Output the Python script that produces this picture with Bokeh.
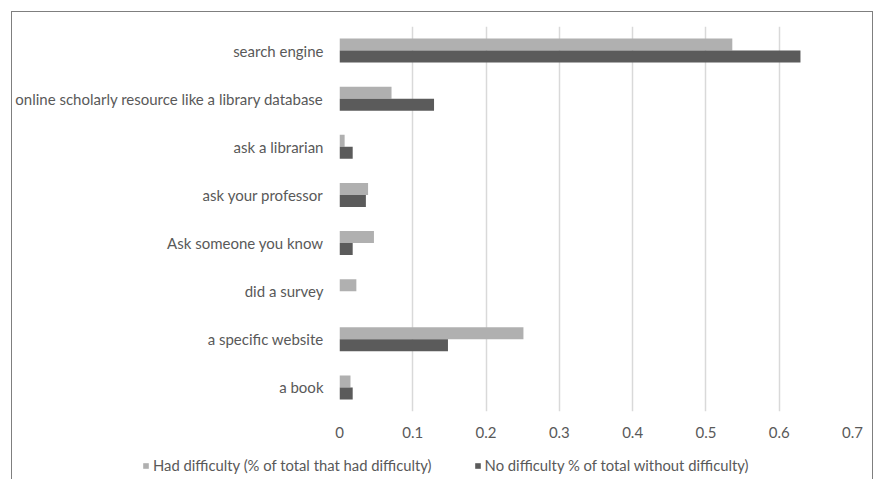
from bokeh.plotting import figure
from bokeh.layouts import column
from bokeh.models import ColumnDataSource, FactorRange, Legend, LegendItem, FixedTicker
from bokeh.transform import dodge
from bokeh.embed import file_html
from bokeh.resources import INLINE

categories = ["search engine", "online scholarly resource like a library database",
              "ask a librarian", "ask your professor", "Ask someone you know",
              "did a survey", "a specific website", "a book"]
had_difficulty = [0.536, 0.071, 0.007, 0.039, 0.047, 0.023, 0.251, 0.015]
no_difficulty = [0.629, 0.129, 0.018, 0.036, 0.018, 0.0, 0.148, 0.018]
x_ticks = [0, 0.1, 0.2, 0.3, 0.4, 0.5, 0.6, 0.7]
series_names = ["Had difficulty (% of total that had difficulty)",
                "No difficulty % of total without difficulty)"]

FONT = "Lato"
TXT = "#595959"
LIGHT = "#b0b0b0"
DARK = "#5b5b5b"

src = ColumnDataSource(dict(cat=categories, had=had_difficulty, no=no_difficulty))

p = figure(width=860, height=430, output_backend="svg", toolbar_location=None,
           y_range=FactorRange(factors=categories[::-1], range_padding=0),
           x_range=(0, 0.7),
           min_border_left=327, min_border_right=20, min_border_top=14, min_border_bottom=31)
p.frame_align = False
p.y_range.factor_padding = 0
p.outline_line_color = None
p.background_fill_color = "white"
p.border_fill_color = "white"

r1 = p.hbar(y=dodge("cat", 0.125, range=p.y_range), right="had", left=0, height=0.25,
            source=src, fill_color=LIGHT, line_color=None)
r2 = p.hbar(y=dodge("cat", -0.125, range=p.y_range), right="no", left=0, height=0.25,
            source=src, fill_color=DARK, line_color=None)

for ax in (p.xaxis, p.yaxis):
    ax.axis_line_color = None
    ax.major_tick_line_color = None
    ax.minor_tick_line_color = None
    ax.major_tick_out = 0
    ax.major_tick_in = 0
    ax.minor_tick_out = 0
    ax.minor_tick_in = 0
    ax.major_label_text_font = FONT
    ax.major_label_text_font_size = "15px"
    ax.major_label_text_color = TXT

p.xaxis.ticker = FixedTicker(ticks=x_ticks)
p.xaxis.major_label_overrides = {0: "0"}
p.xaxis.major_label_standoff = 15
p.yaxis.major_label_standoff = 16

p.xgrid.grid_line_color = "#d9d9d9"
p.xgrid.grid_line_width = 1.5
p.ygrid.grid_line_color = None

# legend strip (its bars lie outside its view; only the legend shows)
lf = figure(width=860, height=40, output_backend="svg", toolbar_location=None,
            x_range=(-2, -1), y_range=FactorRange(factors=categories[::-1]),
            x_axis_type=None, y_axis_type=None, min_border=0)
lf.frame_align = False
lf.outline_line_color = None
lf.grid.grid_line_color = None
l1 = lf.hbar(y="cat", right="had", left=0, height=0.25, source=src,
             fill_color=LIGHT, line_color=None)
l2 = lf.hbar(y="cat", right="no", left=0, height=0.25, source=src,
             fill_color=DARK, line_color=None)
legend = Legend(items=[LegendItem(label=series_names[0], renderers=[l1]),
                       LegendItem(label=series_names[1], renderers=[l2])],
                orientation="horizontal", location=(130, 8),
                glyph_width=7, glyph_height=7, label_standoff=4, spacing=42,
                padding=0, margin=0, border_line_color=None, background_fill_alpha=0,
                label_text_font=FONT, label_text_font_size="14.8px", label_text_color=TXT,
                label_height=14)
lf.add_layout(legend, "center")

layout = column(p, lf, margin=(11, 0, 0, 11), spacing=0,
                styles={"border": "1px solid #7f7f7f"})

open("out.html", "w").write(file_html(layout, INLINE))
